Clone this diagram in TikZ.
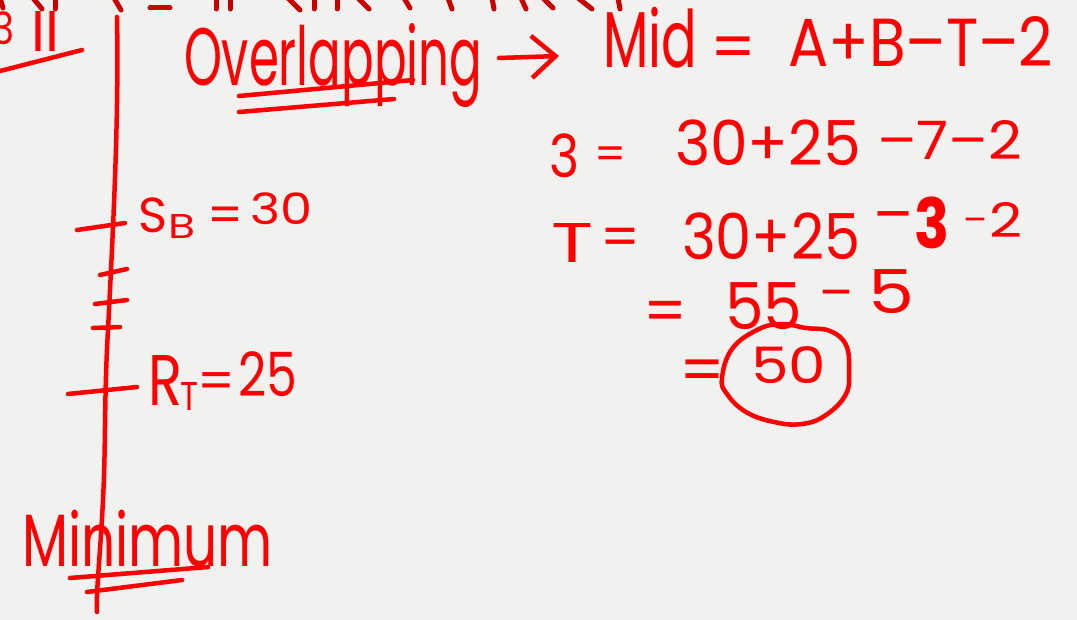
\documentclass[tikz,border=0pt]{standalone}
\usepackage{fontspec}
\setmainfont{Poppins}
\usetikzlibrary{arrows.meta}
\definecolor{paper}{RGB}{241,241,239}
\definecolor{ink}{RGB}{255,0,0}
\definecolor{darkink}{RGB}{200,0,0}
\tikzset{
  hw/.style={text=ink, inner sep=0pt, outer sep=0pt, anchor=north west},
  sign/.style={text=ink, inner sep=0pt, outer sep=0pt, anchor=center},
  pen/.style={draw=ink, line width=4.5pt, line cap=round, line join=round},
  oldpen/.style={draw=darkink, line width=5pt, line cap=round},
}
\newcommand\fitto[3]{\resizebox*{#1pt}{#2pt}{#3}}
\newcommand\fitw[2]{\resizebox{#1pt}{!}{#2}}
\begin{document}
\begin{tikzpicture}[x=1pt,y=-1pt]
\useasboundingbox (0,0) rectangle (1077,620);
\fill[paper] (0,0) rectangle (1077,620);

% cut-off text fragments at the very top
\foreach \a/\b/\c/\d in {0/-2/3/8, 33/-2/42/9, 55/-2/55/9, 114/-2/121/10, 150/8/170/8, 216/-2/216/9, 230/-2/230/9, 288/-2/300/10, 314/-2/314/9, 337/-2/337/9, 358/-2/369/9, 404/-2/410/8, 448/-2/452/9, 492/-2/494/9, 521/-2/526/9, 543/-2/553/8, 578/-2/592/9, 618/-2/620/9}
  \draw[oldpen] (\a,\b) -- (\c,\d);

% top-left label
\node[hw] (three) at (-8,12) {\fitto{22}{33}{3}};
\node[hw] (two) at (31,11) {\fitto{28}{40}{II}};
\coordinate (ul1a) at (0,71); \coordinate (ul1b) at (82,50);
\draw[pen] (ul1a) -- (ul1b);

% vertical axis
\coordinate (axtop) at (117,17);
\coordinate (axbot) at (97,612);
\draw[pen] (axtop) .. controls (119,120) and (113,230) .. (108,330)
  .. controls (104,400) and (106,440) .. (103,500) .. controls (100,560) and (96,590) .. (axbot);
% ticks
\draw[pen] (77,230) -- (125,223);
\draw[pen] (100,275) -- (127,269);
\draw[pen] (95,304) -- (127,300);
\draw[pen] (93,328) -- (120,327);
\draw[pen] (68,394) -- (137,387);

% S_B = 30
\node[hw] (sb) at (138,198) {\fitto{29}{35}{S}};
\node[hw] (sbsub) at (168,214) {\fitto{27}{24}{B}};
\node[sign] (sbeq) at (226,220) {\fitw{36}{=}};
\node[hw] (sbval) at (250,193) {\fitto{62}{32}{30}};

% R_T = 25
\node[hw] (rt) at (148,355) {\fitto{34}{50}{R}};
\node[hw] (rtsub) at (180,382) {\fitto{18}{28}{T}};
\node[sign] (rteq) at (217,386) {\fitw{38}{=}};
\node[hw] (rtval) at (238,352) {\fitto{59}{45}{25}};

% Minimum
\node[hw] (mini) at (22,510) {\fitto{251}{57}{Minimum}};
\draw[pen] (70,578) -- (208,567);
\draw[pen] (87,592) -- (182,580);

% Overlapping -> Mid = A+B-T-2
\node[hw] (ov) at (184,23) {\fitto{298}{84}{Overlapping}};
\draw[pen] (239,96) -- (413,80);
\draw[pen] (239,112) -- (394,99);
\coordinate (arA) at (499,58);
\coordinate (arB) at (559,56);
\draw[pen, -{Straight Barb[length=24pt,width=42pt,line width=4.5pt]}] (arA) -- (arB);

\node[hw] (mid) at (603,7) {\fitto{94}{61}{Mid}};
\node[sign] (mideq) at (734,53) {\fitw{46}{=}};
\node[hw] (formula) at (788,16) {\fitto{265}{50}{A+B–T–2}};

% 3 = 30+25-7-2
\node[hw] (l2a) at (549,134) {\fitto{30}{44}{3}};
\node[sign] (l2eq) at (611,158) {\fitw{32}{=}};
\node[hw] (l2b) at (675,120) {\fitto{186}{46}{30+25}};
\node[hw] (l2c) at (877,120) {\fitto{145}{39}{–7–2}};

% T = 30+25-3-2
\node[hw] (l3a) at (551,223) {\fitto{42}{39}{T}};
\node[sign] (l3eq) at (621,242) {\fitw{40}{=}};
\node[hw] (l3b) at (682,213) {\fitto{178}{47}{30+25}};
\node[sign] (l3m) at (893,224) {\fitw{40}{–}};
\node[hw] (l3c) at (914,197) {\fitto{35}{52}{\bfseries 3}};
\node[sign] (l3m2) at (975,225) {\fitw{24}{–}};
\node[hw] (l3d) at (989,202) {\fitto{33}{35}{2}};

% = 55 - 5
\node[sign] (l4eq) at (666,317) {\fitw{44}{=}};
\node[hw] (l4a) at (725,283) {\fitto{77}{47}{55}};
\node[sign] (l4m) at (836,300) {\fitw{34}{–}};
\node[hw] (l4b) at (868,270) {\fitto{46}{44}{5}};

% = 50 (circled)
\node[sign] (l5eq) at (703,376) {\fitw{46}{=}};
\node[hw] (ans) at (751,347) {\fitto{75}{37}{50}};
\draw[pen] plot[smooth cycle, tension=0.7] coordinates {(732,349) (757,330) (781,324) (806,328) (830,331) (846,345) (849,370) (846,394) (826,415) (802,424) (774,422) (746,412) (727,394) (722,378)};
\end{tikzpicture}
\end{document}
